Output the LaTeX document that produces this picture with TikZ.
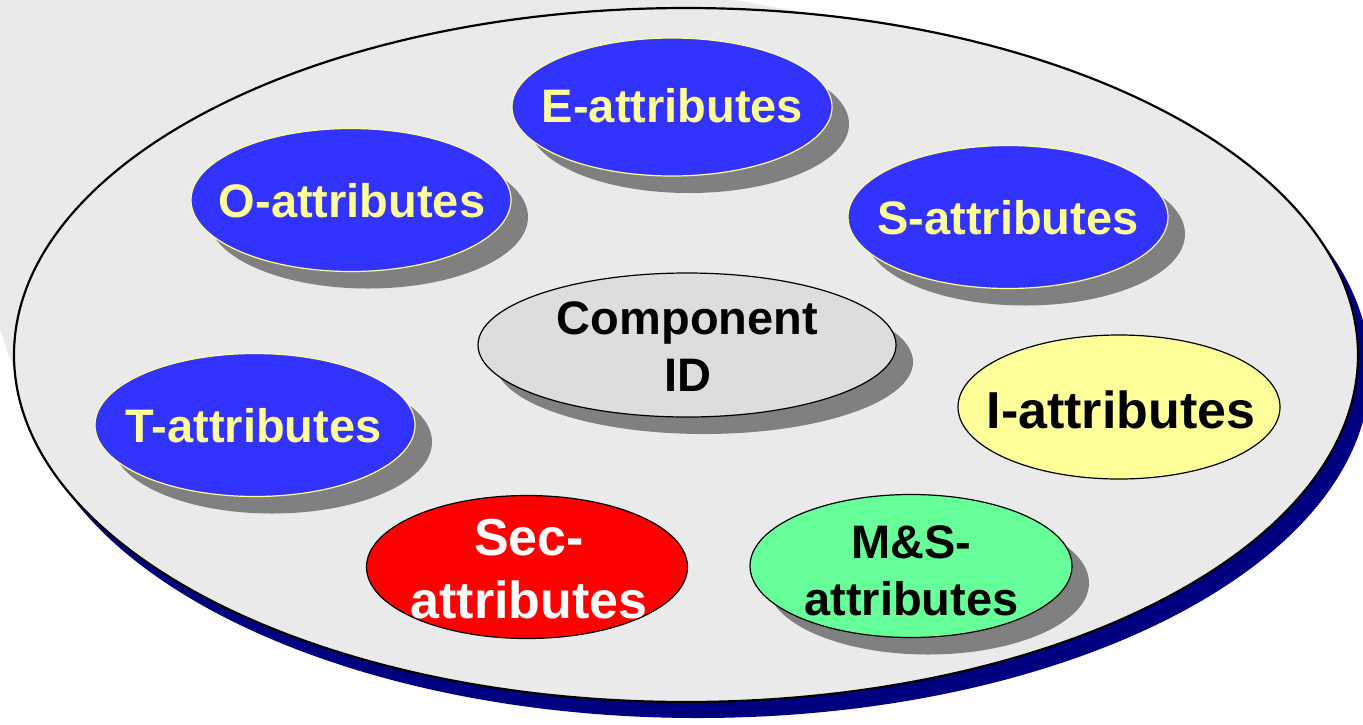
\documentclass[tikz,border=0pt]{standalone}
\usepackage{fontspec}
\setmainfont{Liberation Sans}
\usetikzlibrary{shapes.geometric,shadows,calc}
\definecolor{plategrey}{HTML}{EAEAEA}
\definecolor{platenavy}{HTML}{000080}
\definecolor{attrblue}{HTML}{3333FF}
\definecolor{paleyellow}{HTML}{FFFF99}
\definecolor{shadowgrey}{HTML}{808080}
\definecolor{idgrey}{HTML}{DDDDDD}
\definecolor{secred}{HTML}{FF0000}
\definecolor{msgreen}{HTML}{66FF99}
\begin{document}
\begin{tikzpicture}[x=1pt,y=-1pt,
  blob/.style={ellipse, minimum width=320pt, minimum height=143pt, inner sep=0pt, line width=1.2pt},
  raised/.style={drop shadow={shadow xshift=17pt, shadow yshift=-17pt, opacity=1, fill=shadowgrey}},
  blueblob/.style={blob, raised, fill=attrblue, draw=paleyellow},
  lbl/.style={font=\fontsize{47}{56.4}\selectfont\bfseries, inner sep=0pt, align=center, anchor=base},
  biglbl/.style={lbl, font=\fontsize{52}{62.4}\selectfont\bfseries},
]
\useasboundingbox (0,0) rectangle (1363,724);
\clip (0,0) rectangle (1363,724);

% platform: navy rim, grey top surface and its outline
\fill[platenavy] (698,371) ellipse [x radius=672pt, y radius=347pt];
\fill[plategrey] (-171,-162) -- (813,14) -- (686,355) -- (15,373) -- cycle;
\filldraw[fill=plategrey, draw=black, line width=2.2pt] (686,355) ellipse [x radius=672pt, y radius=347pt];

% attribute groups
\node[blueblob, minimum height=138pt] (eatt) at (672,107) {};
\node[blueblob] (oatt) at (351,200) {};
\node[blueblob] (satt) at (1008,217) {};
\node[blueblob] (tatt) at (255,425) {};
\node[blob, raised, fill=idgrey, draw=black, minimum width=418pt, minimum height=144pt] (cid) at (687,345) {};
\node[blob, fill=paleyellow, draw=black, minimum width=322pt, minimum height=144pt] (iatt) at (1119,407) {};
\node[blob, fill=secred, draw=black, minimum width=321pt] (secatt) at (527,567) {};
\node[blob, raised, fill=msgreen, draw=black, minimum width=322pt] (msatt) at (911,566) {};

% labels (multi-line labels are placed by the baseline of their last line)
\node[lbl, text=paleyellow] (etxt) at ($(eatt.center)+(0.5,15)$) {E-attributes};
\node[lbl, text=paleyellow] (otxt) at ($(oatt.center)+(1,17)$) {O-attributes};
\node[lbl, text=paleyellow] (stxt) at ($(satt.center)+(0,17)$) {S-attributes};
\node[lbl, text=paleyellow] (ttxt) at ($(tatt.center)+(-1.5,17)$) {T-attributes};
\node[lbl, text=black] (cidtxt) at ($(cid.center)+(0.5,46)$) {Component\\ID};
\node[biglbl, text=white] (sectxt) at ($(secatt.center)+(2,51)$) {Sec-\\attributes};
\node[lbl, text=black] (mstxt) at ($(msatt.center)+(0.5,49)$) {M\&S-\\attributes};
\node[biglbl, text=black] (itxt) at ($(iatt.center)+(2,21)$) {I-attributes};
\end{tikzpicture}
\end{document}
